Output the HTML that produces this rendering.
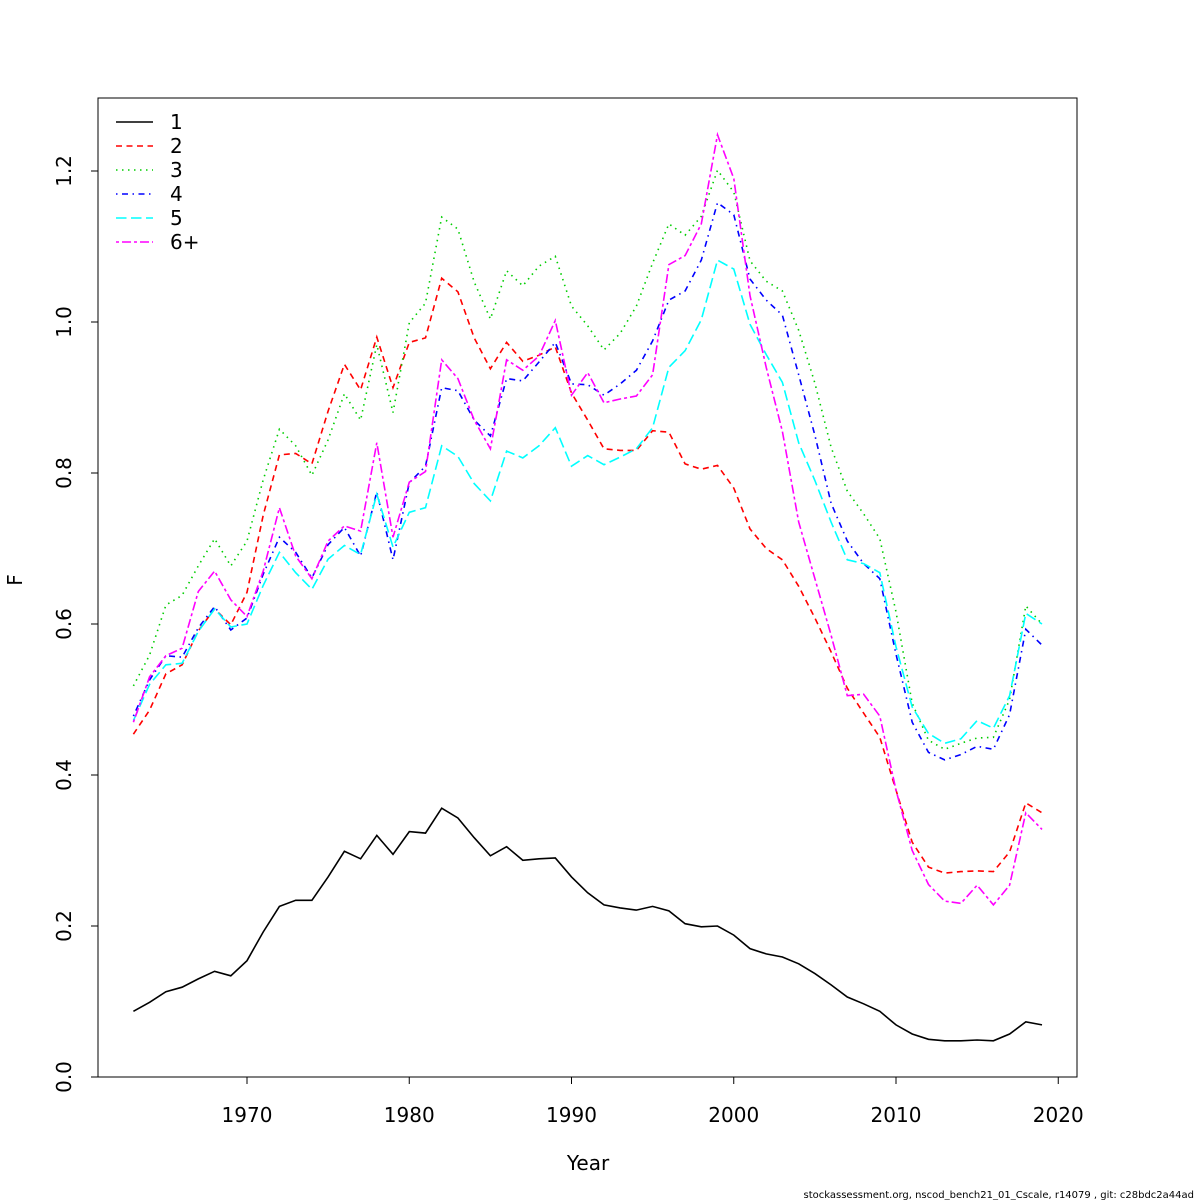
<!DOCTYPE html>
<html><head><meta charset="utf-8"><style>
html,body{margin:0;padding:0;background:#fff;}
svg{display:block;font-family:"DejaVu Sans","Liberation Sans",sans-serif;}
</style></head><body>
<svg id="chart" width="1200" height="1200" viewBox="0 0 1200 1200"></svg>
<script>
const years = [];
for (let y = 1963; y <= 2019; y++) years.push(y);
const xTicks = [1970,1980,1990,2000,2010,2020];
const yTicks = [0,0.2,0.4,0.6,0.8,1.0,1.2];
const yTickLabels = ["0.0","0.2","0.4","0.6","0.8","1.0","1.2"];
const seriesNames = ["1","2","3","4","5","6+"];
const s1 = [0.087,0.099,0.113,0.119,0.13,0.14,0.134,0.154,0.192,0.226,0.234,0.234,0.265,0.299,0.289,0.32,0.295,0.325,0.323,0.356,0.343,0.317,0.293,0.305,0.287,0.289,0.29,0.265,0.244,0.228,0.224,0.221,0.226,0.22,0.203,0.199,0.2,0.188,0.17,0.163,0.159,0.15,0.137,0.122,0.106,0.097,0.087,0.069,0.057,0.05,0.048,0.048,0.049,0.048,0.057,0.073,0.069];
const s2 = [0.454,0.486,0.534,0.546,0.591,0.62,0.599,0.642,0.744,0.824,0.826,0.812,0.882,0.944,0.91,0.98,0.913,0.973,0.979,1.058,1.04,0.979,0.938,0.973,0.948,0.956,0.967,0.906,0.87,0.832,0.83,0.83,0.856,0.854,0.812,0.805,0.81,0.78,0.726,0.7,0.685,0.65,0.608,0.563,0.515,0.482,0.45,0.38,0.311,0.278,0.27,0.272,0.273,0.272,0.298,0.363,0.35];
const s3 = [0.518,0.559,0.625,0.638,0.677,0.713,0.677,0.71,0.791,0.858,0.836,0.797,0.844,0.905,0.87,0.97,0.88,0.999,1.025,1.139,1.123,1.053,1.004,1.068,1.048,1.074,1.087,1.021,0.995,0.963,0.985,1.021,1.078,1.13,1.115,1.14,1.201,1.172,1.081,1.054,1.041,0.989,0.919,0.834,0.776,0.746,0.713,0.616,0.495,0.446,0.434,0.442,0.449,0.45,0.5,0.624,0.6];
const s4 = [0.478,0.526,0.558,0.556,0.595,0.623,0.592,0.608,0.666,0.715,0.695,0.661,0.705,0.728,0.69,0.775,0.685,0.787,0.809,0.913,0.909,0.87,0.849,0.925,0.922,0.947,0.973,0.918,0.917,0.903,0.918,0.936,0.975,1.029,1.041,1.082,1.158,1.142,1.057,1.029,1.009,0.93,0.85,0.76,0.71,0.68,0.66,0.56,0.47,0.43,0.42,0.427,0.438,0.434,0.48,0.593,0.572];
const s5 = [0.472,0.52,0.546,0.548,0.59,0.62,0.596,0.6,0.651,0.695,0.668,0.646,0.686,0.704,0.692,0.772,0.702,0.748,0.754,0.836,0.822,0.786,0.763,0.829,0.82,0.836,0.86,0.809,0.823,0.811,0.821,0.832,0.86,0.94,0.962,1.003,1.082,1.07,0.997,0.957,0.92,0.84,0.79,0.735,0.685,0.68,0.668,0.57,0.49,0.455,0.442,0.448,0.472,0.462,0.505,0.614,0.6];
const s6 = [0.47,0.53,0.558,0.568,0.643,0.67,0.632,0.61,0.67,0.754,0.69,0.66,0.71,0.73,0.723,0.84,0.715,0.788,0.802,0.95,0.925,0.87,0.832,0.95,0.936,0.955,1.002,0.903,0.933,0.893,0.898,0.902,0.93,1.076,1.088,1.13,1.248,1.19,1.035,0.94,0.855,0.735,0.66,0.585,0.505,0.507,0.478,0.38,0.3,0.255,0.233,0.23,0.254,0.228,0.254,0.35,0.328];

const allSeries = [s1,s2,s3,s4,s5,s6];
const colors = ["#000000","#ff0000","#00cd00","#0000ff","#00ffff","#ff00ff"];
const dashes = ["", "6 4.5", "1.5 4.5", "1.5 4.5 6 4.5", "10.5 4.5", "3 3 9 3"];
const NS = "http://www.w3.org/2000/svg";
const svg = document.getElementById("chart");
const L = 98, R = 1077, T = 98, B = 1077;
function xs(v){ return 247 + (v - 1970) * 16.225; }
function ys(v){ return 1077 - v * 755; }
function mk(tag, attrs, parent){
  const e = document.createElementNS(NS, tag);
  for (const k in attrs) e.setAttribute(k, attrs[k]);
  (parent || svg).appendChild(e);
  return e;
}
const frame = mk("rect",{x:L,y:T,width:R-L,height:B-T,fill:"none",stroke:"#000","stroke-width":1});



const xg = mk("g",{});


mk("line",{x1:xs(1970),x2:xs(2020),y1:B,y2:B,stroke:"#000"},xg);
xTicks.forEach(t=>{
  mk("line",{x1:xs(t),x2:xs(t),y1:B,y2:B+7,stroke:"#000"},xg);
  const tx = mk("text",{x:xs(t),y:1122,"font-size":20,"text-anchor":"middle"},xg);
  tx.textContent = t;
  
  
});
const yg = mk("g",{});


mk("line",{x1:L,x2:L,y1:ys(0),y2:ys(1.2),stroke:"#000"},yg);
yTicks.forEach((t,i)=>{
  mk("line",{x1:L,x2:L-7,y1:ys(t),y2:ys(t),stroke:"#000"},yg);
  const tx = mk("text",{x:71,y:ys(t),"font-size":20,"text-anchor":"middle",transform:`rotate(-90 71 ${ys(t)})`},yg);
  tx.textContent = yTickLabels[i];
  
  
});
const xt = mk("text",{x:588,y:1170,"font-size":20,"text-anchor":"middle"});
xt.textContent = "Year";


const yt = mk("text",{x:22,y:580,"font-size":20,"text-anchor":"middle",transform:"rotate(-90 22 580)"});
yt.textContent = "F";


const ft = mk("text",{x:1194,y:1198,"font-size":10,"text-anchor":"end"});
ft.textContent = "stockassessment.org, nscod_bench21_01_Cscale, r14079 , git: c28bdc2a44ad";



allSeries.forEach((s,i)=>{
  const pts = s.map((v,j)=>xs(years[j]).toFixed(1)+","+ys(v).toFixed(1)).join(" ");
  const pl = mk("polyline",{points:pts,fill:"none",stroke:colors[i],"stroke-width":1.6,"stroke-dasharray":dashes[i]||"none"});
  
  
});
const lg = mk("g",{});


seriesNames.forEach((n,i)=>{
  const y = 122 + i*24;
  const ln = mk("line",{x1:116,x2:153,y1:y,y2:y,stroke:colors[i],"stroke-width":1.6,"stroke-dasharray":dashes[i]||"none"},lg);
  
  
  const tx = mk("text",{x:170,y:y+7,"font-size":20},lg);
  tx.textContent = n;
  
  
});
</script>
</body></html>
